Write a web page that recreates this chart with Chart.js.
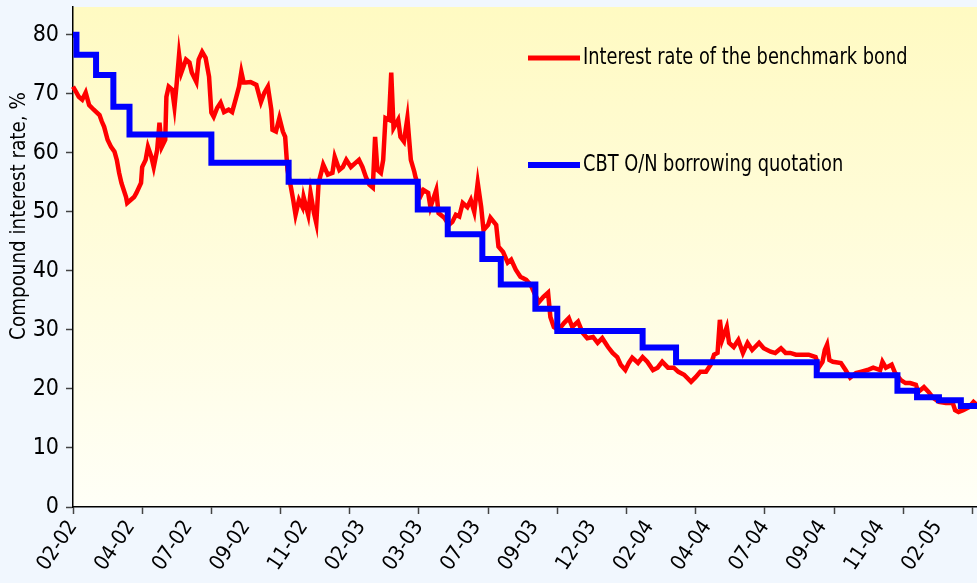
<!DOCTYPE html>
<html>
<head>
<meta charset="utf-8">
<script src="https://cdn.jsdelivr.net/npm/chart.js@4.4.1/dist/chart.umd.min.js"></script>
<style>
  html, body { margin: 0; padding: 0; background: #f1f7fe; }
  #wrap { width: 977px; height: 583px; }
</style>
</head>
<body>
<div id="wrap"><canvas id="rateChart" width="977" height="583"></canvas></div>
<script>
// benchmark bond: trading day index / compound rate, %
const bondDays = [
  0, 3, 5, 8, 11, 14, 18, 23, 25, 27,
  30, 33, 36, 38, 40, 42, 46, 47, 50, 53,
  55, 59, 60, 63, 65, 68, 70, 73, 75, 77,
  80, 81, 83, 86, 88, 90, 92, 94, 98, 101,
  103, 107, 109, 112, 115, 118, 120, 122, 125, 128,
  131, 135, 138, 141, 144, 146, 148, 150, 154, 159,
  163, 166, 169, 172, 173, 176, 179, 182, 184, 186,
  189, 191, 193, 196, 199, 200, 204, 206, 209, 211,
  213, 217, 221, 225, 227, 231, 234, 237, 241, 245,
  248, 251, 254, 257, 260, 262, 264, 267, 269, 271,
  274, 276, 278, 282, 284, 287, 290, 293, 296, 297,
  302, 304, 308, 310, 315, 317, 322, 326, 329, 332,
  335, 338, 342, 345, 348, 351, 354, 356, 360, 362,
  367, 369, 373, 377, 380, 384, 388, 393, 397, 400,
  404, 408, 412, 414, 417, 421, 426, 430, 433, 438,
  442, 446, 451, 455, 459, 464, 468, 472, 475, 479,
  482, 485, 490, 494, 498, 503, 507, 511, 516, 521,
  525, 530, 536, 540, 544, 549, 553, 556, 559, 561,
  563, 567, 569, 573, 577, 581, 585, 589, 595, 599,
  605, 609, 614, 618, 622, 627, 633, 638, 644, 647,
  650, 652, 654, 656, 659, 666, 670, 674, 679, 683,
  689, 694, 700, 702, 705, 710, 713, 718, 722, 726,
  731, 733, 738, 742, 746, 751, 757, 763, 765, 768,
  772, 777, 781, 784
];
const bondRate = [
  71.2, 70.2, 69.5, 69.0, 70.2, 68.1, 67.3, 66.4, 65.3, 64.4,
  62.2, 61.0, 60.2, 58.8, 56.6, 54.9, 52.5, 51.5, 52.0, 52.5,
  53.2, 54.9, 57.6, 58.8, 61.0, 59.3, 57.6, 60.5, 65.1, 61.0,
  62.2, 69.5, 71.2, 70.7, 67.8, 71.9, 76.6, 73.6, 75.8, 75.3,
  73.6, 72.0, 75.8, 77.1, 76.1, 72.9, 66.8, 66.1, 67.6, 68.5,
  66.9, 67.3, 66.9, 69.0, 71.2, 73.7, 71.9, 71.9, 72.0, 71.5,
  68.6, 70.2, 71.2, 67.3, 63.9, 63.6, 65.9, 63.6, 62.7, 57.1,
  54.2, 52.0, 49.5, 52.0, 50.8, 52.5, 49.5, 53.2, 49.8, 48.1,
  54.9, 58.0, 56.3, 56.6, 59.3, 57.1, 57.6, 58.8, 57.6, 58.3,
  58.8, 57.6, 55.9, 54.6, 54.1, 62.7, 57.1, 56.6, 58.8, 65.9,
  65.6, 73.6, 64.2, 65.6, 62.7, 61.9, 65.9, 58.8, 56.8, 55.9,
  52.9, 53.7, 53.2, 50.8, 53.7, 49.8, 49.0, 47.8, 48.3, 49.5,
  49.2, 51.5, 50.8, 52.0, 50.0, 54.9, 50.8, 46.9, 47.8, 49.0,
  47.8, 44.1, 43.2, 41.4, 41.9, 40.2, 39.0, 38.5, 37.6, 36.3,
  34.7, 35.6, 36.3, 32.2, 30.5, 30.0, 31.2, 32.0, 30.5, 31.4,
  29.5, 28.6, 28.8, 27.8, 28.6, 27.1, 26.1, 25.4, 24.1, 23.2,
  24.4, 25.3, 24.4, 25.4, 24.6, 23.2, 23.6, 24.6, 23.6, 23.6,
  22.9, 22.4, 21.2, 22.0, 22.9, 22.9, 24.1, 25.8, 26.1, 31.7,
  28.3, 30.5, 27.8, 27.1, 28.3, 26.1, 27.8, 26.6, 27.8, 26.9,
  26.3, 26.1, 26.9, 26.1, 26.1, 25.8, 25.8, 25.8, 25.4, 23.7,
  24.6, 26.6, 27.5, 24.9, 24.6, 24.4, 23.2, 21.9, 22.7, 22.9,
  23.2, 23.6, 23.2, 24.6, 23.6, 24.1, 22.7, 21.5, 21.0, 21.0,
  20.7, 19.5, 20.3, 19.5, 18.5, 17.8, 17.6, 17.6, 16.4, 16.1,
  16.4, 16.9, 17.8, 17.3
];

// CBT O/N borrowing quotation: day the quote changed / new level, %
const cbtDays = [0, 3, 20, 35, 49, 120, 187, 299, 325, 355, 371, 401, 420, 494, 523, 645, 715, 732, 751, 770, 784];
const cbtRate = [80.0, 76.6, 73.2, 67.8, 63.1, 58.3, 55.1, 50.4, 46.2, 42.0, 37.7, 33.6, 29.8, 27.0, 24.5, 22.3, 19.7, 18.6, 18.1, 17.1, 17.1];

// date labels every 50 trading days, tick marks every 60
const dayLabels = ['02-02', '04-02', '07-02', '09-02', '11-02', '02-03', '03-03', '07-03',
                   '09-03', '12-03', '02-04', '04-04', '07-04', '09-04', '11-04', '02-05'];
const labelStep = 50;
const tickStep = 60;
const lastDay = 784;
const rateTicks = [0, 10, 20, 30, 40, 50, 60, 70, 80];

const seriesNames = ['Interest rate of the benchmark bond', 'CBT O/N borrowing quotation'];
const axisTitle = 'Compound interest rate, %';

const narrow = "'Liberation Sans Narrow', 'Arial Narrow', 'DejaVu Sans Condensed', 'Liberation Sans', sans-serif";
Chart.defaults.font.family = narrow;
Chart.defaults.color = '#000';

function toPoints(xs, ys) {
  return xs.map(function (x, i) { return { x: x, y: ys[i] }; });
}

// page + plot background
const backdrop = {
  id: 'backdrop',
  beforeDraw: function (chart) {
    const ctx = chart.ctx, a = chart.chartArea;
    ctx.save();
    ctx.fillStyle = '#f1f7fe';
    ctx.fillRect(0, 0, chart.width, chart.height);
    const g = ctx.createLinearGradient(0, a.top, 0, a.bottom);
    g.addColorStop(0, '#fffac2');
    g.addColorStop(1, '#fffff7');
    ctx.fillStyle = g;
    ctx.fillRect(a.left, a.top, a.right - a.left, a.bottom - a.top);
    ctx.restore();
  }
};

// y title and the two legend entries
const labelsPlugin = {
  id: 'labelsPlugin',
  afterDraw: function (chart) {
    const ctx = chart.ctx;
    ctx.save();
    ctx.fillStyle = '#000';
    ctx.font = '21px ' + narrow;
    ctx.textAlign = 'center';
    ctx.textBaseline = 'middle';
    ctx.translate(20, 216);
    ctx.rotate(-Math.PI / 2);
    ctx.scale(0.97, 1);
    ctx.fillText(axisTitle, 0, 0);
    ctx.restore();

    const keys = [
      { color: '#ff0000', width: 5, y: 58 },
      { color: '#0000ff', width: 6, y: 165 }
    ];
    ctx.save();
    ctx.font = '23px ' + narrow;
    ctx.textAlign = 'left';
    ctx.textBaseline = 'middle';
    keys.forEach(function (k, i) {
      ctx.strokeStyle = k.color;
      ctx.lineWidth = k.width;
      ctx.beginPath();
      ctx.moveTo(528, k.y);
      ctx.lineTo(580, k.y);
      ctx.stroke();
      ctx.save();
      ctx.translate(583, k.y);
      ctx.scale(0.86, 1);
      ctx.fillStyle = '#000';
      ctx.fillText(seriesNames[i], 0, 0);
      ctx.restore();
    });
    ctx.restore();
  }
};

new Chart(document.getElementById('rateChart'), {
  type: 'line',
  data: {
    datasets: [
      {
        label: seriesNames[1],
        data: toPoints(cbtDays, cbtRate),
        borderColor: '#0000ff',
        borderWidth: 6,
        stepped: true,
        pointRadius: 0,
        clip: 4
      },
      {
        label: seriesNames[0],
        data: toPoints(bondDays, bondRate),
        borderColor: '#ff0000',
        borderWidth: 4.5,
        tension: 0,
        pointRadius: 0,
        clip: 4
      }
    ]
  },
  options: {
    responsive: false,
    animation: false,
    devicePixelRatio: 1,
    layout: { padding: { top: 7, right: 0, left: 0, bottom: 0 } },
    plugins: { legend: { display: false }, tooltip: { enabled: false } },
    scales: {
      x: {
        type: 'linear',
        min: 0,
        max: lastDay,
        afterBuildTicks: function (scale) {
          const t = [];
          for (let v = 0; v <= lastDay; v++) {
            if (v % labelStep === 0 || v % tickStep === 0) t.push({ value: v });
          }
          scale.ticks = t;
        },
        afterFit: function (scale) {
          scale.height = 76;
          scale.paddingLeft = 0;
          scale.paddingRight = 0;
        },
        border: { display: true, color: '#000', width: 1.5 },
        grid: {
          drawOnChartArea: false,
          tickLength: 7,
          tickWidth: 1.5,
          tickColor: function (c) {
            return c.tick && c.tick.value % tickStep === 0 ? '#444' : 'rgba(0,0,0,0)';
          }
        },
        ticks: {
          autoSkip: false,
          minRotation: 56,
          maxRotation: 56,
          padding: 2,
          font: { size: 21 },
          callback: function (value) {
            return value % labelStep === 0 ? dayLabels[value / labelStep] : '';
          }
        }
      },
      y: {
        min: 0,
        max: 84.7,
        afterBuildTicks: function (scale) {
          scale.ticks = rateTicks.map(function (v) { return { value: v }; });
        },
        afterFit: function (scale) {
          scale.width = 73;
          scale.paddingTop = 0;
          scale.paddingBottom = 0;
        },
        border: { display: true, color: '#000', width: 1.5 },
        grid: { drawOnChartArea: false, tickLength: 7, tickColor: '#444', tickWidth: 1.5 },
        ticks: { padding: 7, font: { size: 23 } }
      }
    }
  },
  plugins: [backdrop, labelsPlugin]
});
</script>
</body>
</html>
